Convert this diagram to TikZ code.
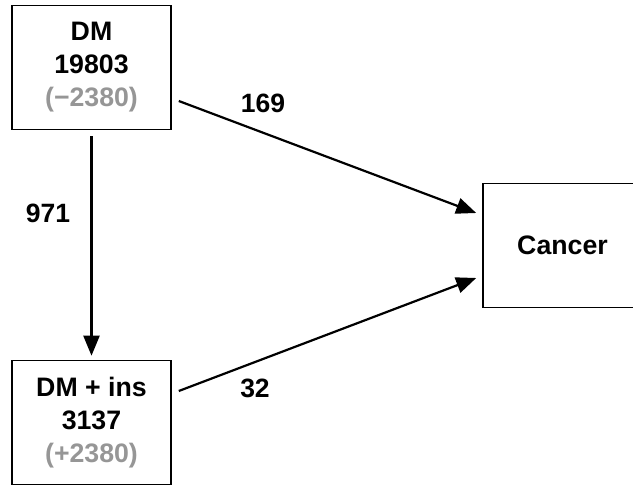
\documentclass[tikz,border=0pt]{standalone}
\usepackage{fontspec}
\setmainfont{Liberation Sans}
\usetikzlibrary{arrows.meta}
\definecolor{lightgraytxt}{RGB}{150,150,150}
\begin{document}
\begin{tikzpicture}[x=1pt,y=-1pt,
  box/.style={draw=black,line width=1.6pt,minimum width=159pt,minimum height=124pt,
    inner sep=0pt,align=center,font=\fontsize{26.7}{33}\selectfont\bfseries},
  lbl/.style={font=\fontsize{26.5}{33}\selectfont\bfseries,inner sep=0pt},
  conn/.style={line width=2.2pt,-{Triangle[length=20pt,width=16pt]}}]
\useasboundingbox (0,0) rectangle (633,486);
\clip (0,0) rectangle (633,486);
\node[box] (dm) at (91.5,67.5) {DM\\19803\\\textcolor{lightgraytxt}{(\char"2212 2380)}};
\node[box] (ins) at (91.5,422.5) {DM + ins\\3137\\\textcolor{lightgraytxt}{(+2380)}};
\node[box] (cancer) at (562.5,245.5) {Cancer};
\draw[conn] ([yshift=-6pt]dm.south) -- ([yshift=4pt]ins.north);
\draw[conn] ([xshift=7pt,yshift=-33.5pt]dm.east) -- ([xshift=-6pt,yshift=32.5pt]cancer.west);
\draw[conn] ([xshift=7pt,yshift=31.5pt]ins.east) -- ([xshift=-6pt,yshift=-32.5pt]cancer.west);
\node[lbl] (l169) at (263,103) {169};
\node[lbl] (l971) at (48,213) {971};
\node[lbl] (l32) at (255,388) {32};
\end{tikzpicture}
\end{document}
